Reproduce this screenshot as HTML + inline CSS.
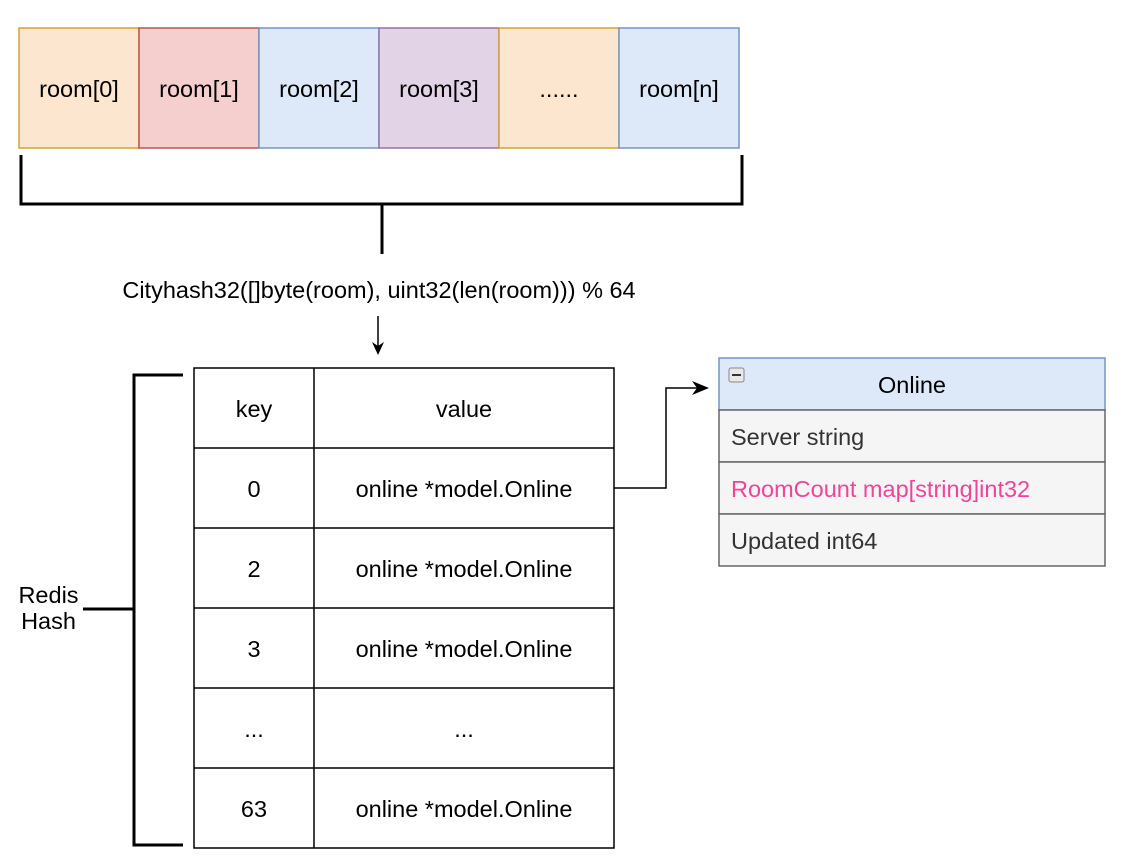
<!DOCTYPE html>
<html><head><meta charset="utf-8"><style>
body{margin:0;width:1142px;height:862px;background:#fff;position:relative;font-family:"Liberation Sans",Arial,sans-serif;overflow:hidden}
.t{position:absolute;font-size:23.5px;line-height:28px;height:28px;color:#000;white-space:nowrap}
</style></head><body>
<svg width="1142" height="862" style="position:absolute;left:0;top:0">
<g stroke-width="1.5">
<rect x="19" y="28" width="120" height="120" fill="#fce6cf" stroke="#d6a233"/>
<rect x="139" y="28" width="120" height="120" fill="#f4cfcd" stroke="#b55652"/>
<rect x="259" y="28" width="120" height="120" fill="#dde8f8" stroke="#7395c6"/>
<rect x="379" y="28" width="120" height="120" fill="#e2d4e6" stroke="#9373a6"/>
<rect x="499" y="28" width="120" height="120" fill="#fce6cf" stroke="#d6a233"/>
<rect x="619" y="28" width="120" height="120" fill="#dde8f8" stroke="#7395c6"/>
</g>
<path d="M21 155 V204 H742 V155 M382 204 V254" fill="none" stroke="#000" stroke-width="3"/>
<path d="M378 316 V346" stroke="#000" stroke-width="1.5"/>
<path d="M372 342 L378 355 L384 342 L378 346 Z" fill="#000"/>
<path d="M183 375 H134 V845 H183 M83 609 H134" fill="none" stroke="#000" stroke-width="3"/>
<g fill="none" stroke="#000" stroke-width="1.5">
<rect x="194" y="368" width="420" height="480" fill="#fff"/>
<path d="M314 368 V848 M194 448 H614 M194 528 H614 M194 608 H614 M194 688 H614 M194 768 H614"/>
<path d="M614 488 H666 V388 H705"/>
</g>
<path d="M692 381 L709 388 L692 395 L697 388 Z" fill="#000"/>
<rect x="719" y="358" width="386" height="52" fill="#dde8f8" stroke="#7395c6" stroke-width="1.5"/>
<g fill="#f5f5f5" stroke="#666" stroke-width="1.5">
<rect x="719" y="410" width="386" height="52"/>
<rect x="719" y="462" width="386" height="52"/>
<rect x="719" y="514" width="386" height="52"/>
</g>
<rect x="729" y="368" width="15" height="14" rx="2" fill="#e8e8e8" stroke="#888"/>
<path d="M732 375 H741" stroke="#333" stroke-width="2"/>
</svg>
<div class="t" style="left:19px;top:75px;width:120px;text-align:center">room[0]</div>
<div class="t" style="left:139px;top:75px;width:120px;text-align:center">room[1]</div>
<div class="t" style="left:259px;top:75px;width:120px;text-align:center">room[2]</div>
<div class="t" style="left:379px;top:75px;width:120px;text-align:center">room[3]</div>
<div class="t" style="left:499px;top:75px;width:120px;text-align:center">......</div>
<div class="t" style="left:619px;top:75px;width:120px;text-align:center">room[n]</div>
<div class="t" style="left:29px;top:276px;width:700px;text-align:center">Cityhash32([]byte(room), uint32(len(room))) % 64</div>
<div class="t" style="left:0px;top:582px;width:97px;text-align:center;line-height:26px;height:52px">Redis<br>Hash</div>
<div class="t" style="left:194px;top:395px;width:120px;text-align:center">key</div>
<div class="t" style="left:314px;top:395px;width:300px;text-align:center">value</div>
<div class="t" style="left:194px;top:475px;width:120px;text-align:center">0</div>
<div class="t" style="left:314px;top:475px;width:300px;text-align:center">online *model.Online</div>
<div class="t" style="left:194px;top:555px;width:120px;text-align:center">2</div>
<div class="t" style="left:314px;top:555px;width:300px;text-align:center">online *model.Online</div>
<div class="t" style="left:194px;top:635px;width:120px;text-align:center">3</div>
<div class="t" style="left:314px;top:635px;width:300px;text-align:center">online *model.Online</div>
<div class="t" style="left:194px;top:715px;width:120px;text-align:center">...</div>
<div class="t" style="left:314px;top:715px;width:300px;text-align:center">...</div>
<div class="t" style="left:194px;top:795px;width:120px;text-align:center">63</div>
<div class="t" style="left:314px;top:795px;width:300px;text-align:center">online *model.Online</div>
<div class="t" style="left:719px;top:371px;width:386px;text-align:center">Online</div>
<div class="t" style="left:731px;top:423px;color:#333">Server string</div>
<div class="t" style="left:731px;top:475px;color:#ee4499">RoomCount map[string]int32</div>
<div class="t" style="left:731px;top:527px;color:#333">Updated int64</div>
</body></html>
